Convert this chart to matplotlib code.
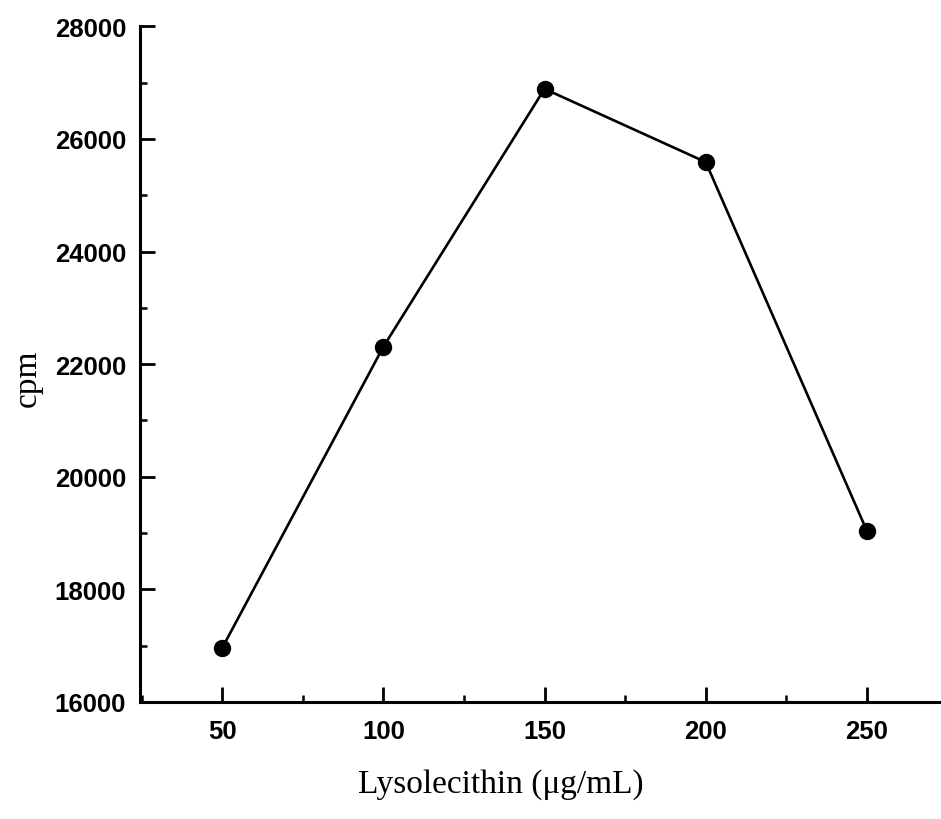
"""Lysolecithin dose response (cpm)."""
import matplotlib
matplotlib.use('Agg')
import matplotlib.pyplot as plt
from matplotlib.ticker import MultipleLocator

plt.rcParams.update({
    'font.family': 'sans-serif',
    'font.sans-serif': ['Liberation Sans', 'DejaVu Sans'],
})

lyso = [50, 100, 150, 200, 250]
cpm = [16960, 22310, 26890, 25590, 19040]

fig = plt.figure(figsize=(9.41, 8.2), dpi=100)
ax = fig.add_axes([0.1488, 0.1427, 1.0 - 0.1488, 0.9666 - 0.1427])

ax.plot(lyso, cpm, '-', color='black', linewidth=1.9, zorder=2)
ax.plot(lyso, cpm, 'o', color='black', markersize=11.5, zorder=3)

ax.set_xlim(24.5, 273)
ax.set_ylim(16000, 28000)
ax.xaxis.set_major_locator(MultipleLocator(50))
ax.xaxis.set_minor_locator(MultipleLocator(25))
ax.yaxis.set_major_locator(MultipleLocator(2000))
ax.yaxis.set_minor_locator(MultipleLocator(1000))

for s in ('top', 'right'):
    ax.spines[s].set_visible(False)
for s in ('left', 'bottom'):
    ax.spines[s].set_linewidth(2.2)

ax.tick_params(which='major', direction='in', length=10.5, width=2.0,
               labelsize=18.5)
ax.tick_params(which='minor', direction='in', length=5, width=1.8)
ax.tick_params(axis='y', which='major', pad=10)
ax.tick_params(axis='x', which='major', pad=12)
for lab in ax.get_xticklabels() + ax.get_yticklabels():
    lab.set_fontweight('bold')

ax.text(0.451, -0.121, 'Lysolecithin (\u03bcg/mL)', transform=ax.transAxes,
        ha='center', va='center', fontsize=24, family='Liberation Serif')
ax.text(-0.141, 0.48, 'cpm', transform=ax.transAxes, rotation=90,
        ha='center', va='center', fontsize=24, family='Liberation Serif')

fig.savefig('out.png', dpi=100, facecolor='white')
